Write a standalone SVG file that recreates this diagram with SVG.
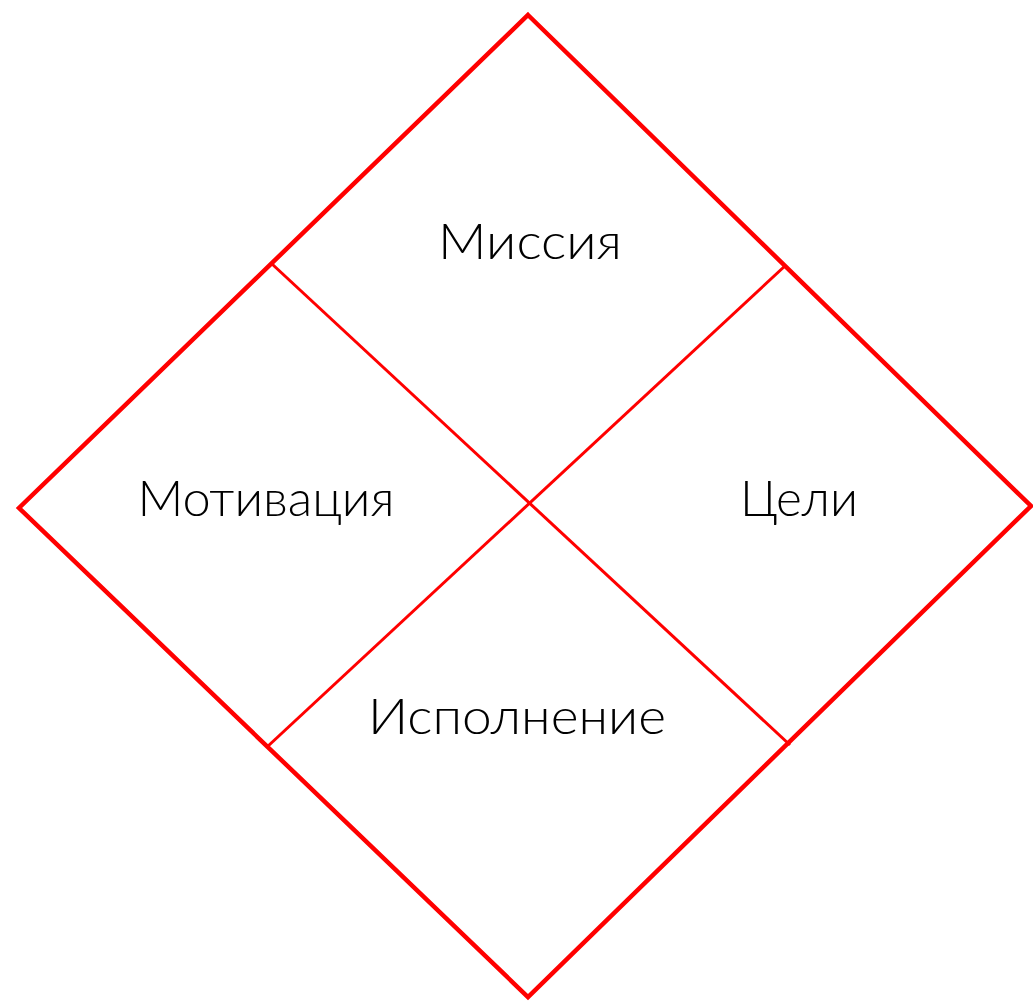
<svg xmlns="http://www.w3.org/2000/svg" width="1033" height="1002" viewBox="0 0 1033 1002">
<style>
.outer{fill:none;stroke:#ff0000;stroke-width:4.5;stroke-linejoin:miter}
.inner{fill:none;stroke:#ff0000;stroke-width:3}
.lbl{font-family:"Lato","Liberation Sans",sans-serif;font-size:50px;font-weight:300;fill:#000;text-anchor:middle}
</style>
<rect width="1033" height="1002" fill="#fff"/>
<g id="connectors">
<polygon class="outer" points="528,15 1031,506 528,997 19,508"/>
<line class="inner" x1="272" y1="264" x2="790" y2="745"/>
<line class="inner" x1="786" y1="265" x2="267" y2="747"/>
</g>
<g id="mission"><text class="lbl" x="530" y="259" textLength="184" lengthAdjust="spacingAndGlyphs">Миссия</text></g>
<g id="motivation"><text class="lbl" x="266" y="516" textLength="257" lengthAdjust="spacingAndGlyphs">Мотивация</text></g>
<g id="goals"><text class="lbl" x="799" y="516" textLength="118" lengthAdjust="spacingAndGlyphs">Цели</text></g>
<g id="execution"><text class="lbl" x="517" y="734" textLength="298" lengthAdjust="spacingAndGlyphs">Исполнение</text></g>
</svg>
